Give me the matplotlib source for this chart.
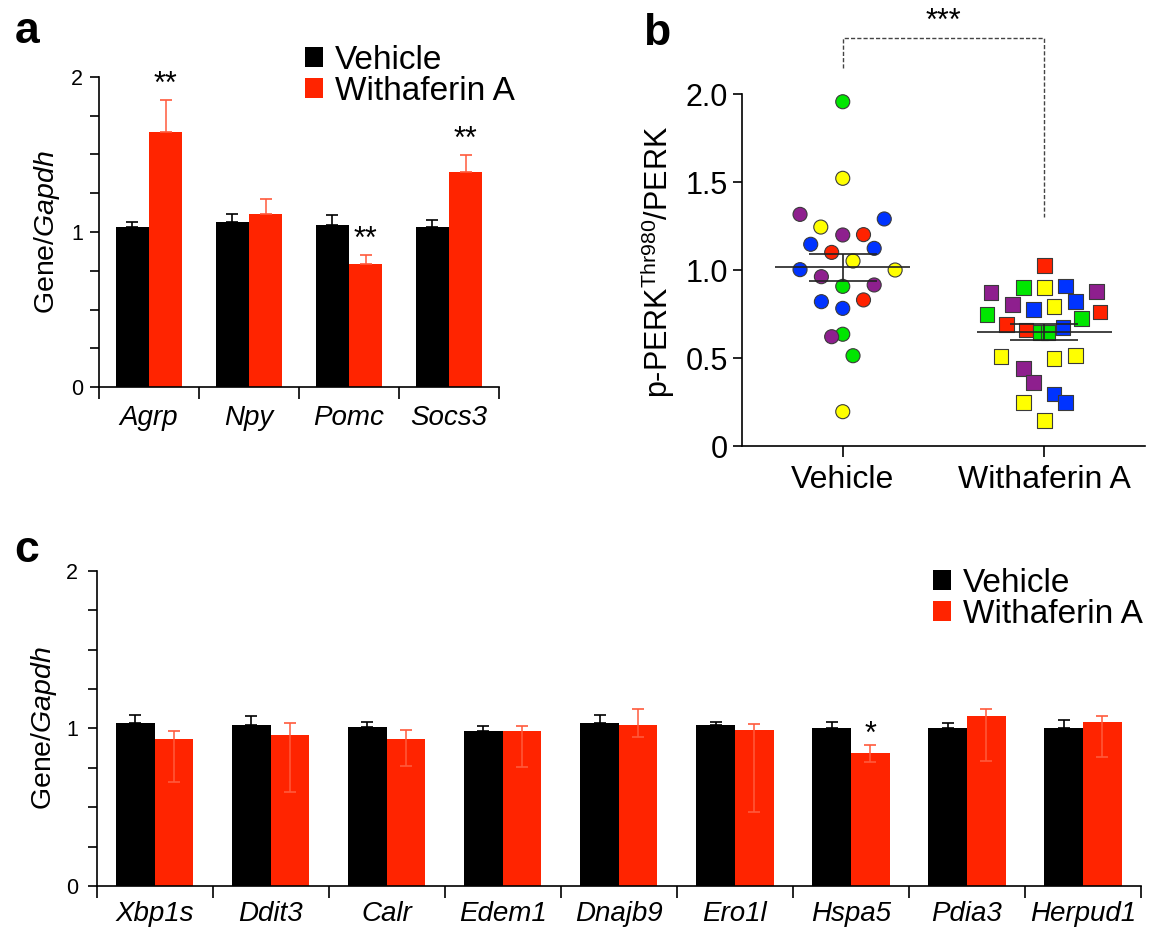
import numpy as np
import matplotlib
matplotlib.use("Agg")
import matplotlib.pyplot as plt
from matplotlib.patches import Patch
from matplotlib.ticker import MultipleLocator, FixedLocator

plt.rcParams["font.family"] = "Liberation Sans"
plt.rcParams["mathtext.fontset"] = "custom"
plt.rcParams["mathtext.rm"] = "Liberation Sans"
plt.rcParams["mathtext.it"] = "Liberation Sans:italic"

RED = "#ff2400"
RED_ERR = "#ff5a3c"

# panel a: hypothalamic genes
genes_a = ["Agrp", "Npy", "Pomc", "Socs3"]
veh_a = [1.03, 1.062, 1.043, 1.03]
veh_a_err = [0.037, 0.056, 0.067, 0.045]
wa_a = [1.642, 1.116, 0.796, 1.387]
wa_a_err = [0.21, 0.099, 0.056, 0.109]
sig_a = ["**", "", "**", "**"]

# panel b: p-PERK / PERK, one point per animal
veh_b = [1.956, 1.521, 1.316, 1.290, 1.244, 1.199, 1.201, 1.146, 1.123, 1.100,
         1.051, 1.002, 1.000, 0.962, 0.907, 0.915, 0.820, 0.830, 0.782, 0.635,
         0.621, 0.513, 0.195]
veh_b_jit = [0.0, 0.0, -0.212, 0.206, -0.109, 0.0, 0.103, -0.159, 0.156, -0.055,
             0.051, -0.212, 0.260, -0.106, 0.0, 0.156, -0.106, 0.103, 0.0, 0.0,
             -0.055, 0.051, 0.0]
veh_b_col = ["g", "y", "p", "b", "y", "p", "r", "b", "b", "r",
             "y", "b", "y", "p", "g", "p", "b", "r", "b", "g",
             "p", "g", "y"]
wa_b = [1.025, 0.871, 0.900, 0.900, 0.909, 0.877, 0.805, 0.777, 0.792, 0.820,
        0.748, 0.761, 0.689, 0.725, 0.659, 0.644, 0.644, 0.674, 0.508, 0.498,
        0.513, 0.441, 0.362, 0.295, 0.246, 0.246, 0.144]
wa_b_jit = [0.0, -0.264, -0.104, 0.0, 0.106, 0.259, -0.156, -0.053, 0.048, 0.156,
            -0.284, 0.277, -0.187, 0.184, -0.091, -0.018, 0.018, 0.093, -0.214, 0.048,
            0.156, -0.104, -0.053, 0.048, 0.106, -0.104, 0.0]
wa_b_col = ["r", "p", "g", "y", "b", "p", "p", "b", "y", "b",
            "g", "r", "r", "g", "r", "g", "g", "b", "y", "y",
            "y", "p", "p", "b", "b", "y", "y"]
groups_b = ["Vehicle", "Withaferin A"]
palette = {"g": "#00e600", "y": "#ffff00", "p": "#8e1f8e", "b": "#0033ff", "r": "#ff2200"}

# panel c: UPR genes
genes_c = ["Xbp1s", "Ddit3", "Calr", "Edem1", "Dnajb9", "Ero1l", "Hspa5", "Pdia3", "Herpud1"]
veh_c = [1.037, 1.020, 1.011, 0.986, 1.037, 1.020, 1.005, 1.005, 1.004]
veh_c_err = [0.046, 0.057, 0.030, 0.032, 0.048, 0.023, 0.038, 0.029, 0.047]
wa_c = [0.931, 0.956, 0.931, 0.986, 1.020, 0.988, 0.842, 1.077, 1.042]
wa_c_up = [0.053, 0.078, 0.061, 0.032, 0.103, 0.040, 0.055, 0.048, 0.034]
wa_c_low = [0.269, 0.362, 0.167, 0.229, 0.076, 0.516, 0.057, 0.282, 0.222]
sig_c = ["", "", "", "", "", "", "*", "", ""]

W, H = 1160, 931
fig = plt.figure(figsize=(W / 100, H / 100), dpi=100)


def px_axes(left, top, right, bottom):
    return fig.add_axes([left / W, 1 - bottom / H, (right - left) / W, (bottom - top) / H])


def style_axes(ax, tick_size, ypad):
    for s in ("top", "right"):
        ax.spines[s].set_visible(False)
    for s in ("left", "bottom"):
        ax.spines[s].set_linewidth(1.2)
    ax.tick_params(axis="y", which="both", length=6.5, width=1.2, labelsize=tick_size, pad=ypad)


def bar_panel(ax, genes, veh, veh_err, wa, wa_up, wa_low, sig, lab_pad, star_px, ylab_x):
    n = len(genes)
    x = np.arange(n)
    w = 0.333
    ax.bar(x - w / 2, veh, w, color="black", zorder=2)
    ax.bar(x + w / 2, wa, w, color=RED, zorder=2)
    ax.errorbar(x - w / 2, veh, yerr=[np.zeros(n), veh_err], fmt="none", ecolor="black",
                elinewidth=1.2, capsize=4, capthick=1.2, zorder=3)
    ax.errorbar(x + w / 2, wa, yerr=[wa_low, wa_up], fmt="none", ecolor=RED_ERR,
                elinewidth=1.1, capsize=4, capthick=1.2, zorder=3)
    for i, s in enumerate(sig):
        if s:
            ax.annotate(s, (x[i] + w / 2, wa[i] + wa_up[i]), xytext=(0, star_px * 0.72 - 12.5),
                        textcoords="offset points", ha="center", va="baseline", fontsize=22)
    ax.set_xlim(-0.5, n - 0.5)
    ax.set_ylim(0, 2)
    ax.yaxis.set_major_locator(FixedLocator([0, 1, 2]))
    ax.yaxis.set_minor_locator(MultipleLocator(0.25))
    ax.set_yticklabels(["0", "1", "2"])
    ax.xaxis.set_major_locator(FixedLocator(np.arange(n + 1) - 0.5))
    ax.xaxis.set_minor_locator(FixedLocator(x))
    ax.tick_params(axis="x", which="major", length=8.6, width=1.2, labelbottom=False)
    ax.tick_params(axis="x", which="minor", length=0, labelsize=20, pad=lab_pad)
    ax.set_xticklabels(genes, minor=True, style="italic")
    ax.set_ylabel(r"Gene/$\mathit{Gapdh}$", fontsize=20.5)
    ax.yaxis.set_label_coords(ylab_x, 0.5)


def bar_legend(ax, left, top):
    handles = [Patch(facecolor="black"), Patch(facecolor=RED)]
    ax.legend(handles, ["Vehicle", "Withaferin A"], loc="upper left",
              bbox_to_anchor=(left / W, 1 - top / H), bbox_transform=fig.transFigure,
              frameon=False, fontsize=24, handlelength=0.55, handleheight=0.55,
              handletextpad=0.36, labelspacing=0.0, borderpad=0, borderaxespad=0)


# ---- panel a
ax_a = px_axes(99, 76.7, 499, 387.3)
style_axes(ax_a, 15.5, 5)
bar_panel(ax_a, genes_a, veh_a, veh_a_err, wa_a, wa_a_err, np.zeros(len(wa_a)), sig_a,
          13, 24, -0.092)
bar_legend(ax_a, 305, 45)

# ---- panel b
ax_b = px_axes(742, 94, 1145, 446)
style_axes(ax_b, 22, 3.6)
for i, (vals, jit, cols, mk, sz) in enumerate([(veh_b, veh_b_jit, veh_b_col, "o", 102),
                                               (wa_b, wa_b_jit, wa_b_col, "s", 112)]):
    vals = np.array(vals)
    ax_b.scatter(i + np.array(jit), vals, s=sz, marker=mk, c=[palette[c] for c in cols],
                 edgecolors="#3a3a3a", linewidths=0.8, zorder=3)
    m = vals.mean()
    se = vals.std(ddof=1) / np.sqrt(len(vals))
    ax_b.hlines(m, i - 0.336, i + 0.336, color="#222222", lw=1.2, zorder=4)
    ax_b.hlines([m - se, m + se], i - 0.168, i + 0.168, color="#222222", lw=1.2, zorder=4)
    ax_b.vlines(i, m - se, m + se, color="#222222", lw=1.2, zorder=4)
ax_b.set_xlim(-0.5, 1.5)
ax_b.set_ylim(0, 2.0)
ax_b.set_yticks([0, 0.5, 1.0, 1.5, 2.0])
ax_b.set_yticklabels(["0", "0.5", "1.0", "1.5", "2.0"])
ax_b.set_xticks([0, 1])
ax_b.set_xticklabels(groups_b)
ax_b.tick_params(axis="x", length=8, width=1.2, labelsize=23, pad=6)
ax_b.set_ylabel(r"p-PERK$^{\mathrm{Thr980}}$/PERK", fontsize=22)
ax_b.yaxis.set_label_coords(-0.162, 0.524)
ax_b.plot([0, 0, 1, 1], [2.148, 2.316, 2.316, 1.303], color="#444444", lw=1,
          ls=(0, (3, 1.5)), clip_on=False)
ax_b.text(0.5, 2.43, "***", ha="center", va="center_baseline", fontsize=22)

# ---- panel c
ax_c = px_axes(96.7, 570.7, 1141, 886)
style_axes(ax_c, 15.5, 7)
bar_panel(ax_c, genes_c, veh_c, veh_c_err, wa_c, wa_c_up, wa_c_low, sig_c,
          11, 19.4, -0.036)
bar_legend(ax_c, 932.7, 568)

# panel letters
fig.text(15 / W, 1 - 43 / H, "a", fontsize=32, fontweight="bold", va="baseline")
fig.text(643 / W, 1 - 45 / H, "b", fontsize=32, fontweight="bold", va="baseline")
fig.text(14 / W, 1 - 562 / H, "c", fontsize=32, fontweight="bold", va="baseline")

fig.savefig("out.png", dpi=100)
